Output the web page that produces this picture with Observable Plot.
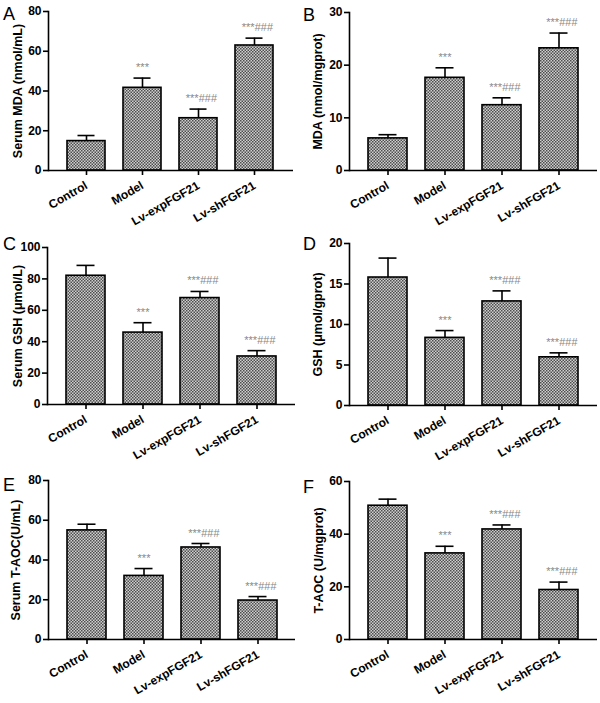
<!DOCTYPE html>
<html><head><meta charset="utf-8">
<script src="https://cdn.jsdelivr.net/npm/d3@7"></script>
<script src="https://cdn.jsdelivr.net/npm/@observablehq/plot@0.6"></script>
<style>
body{margin:0;background:#fff;}
#wrap{position:relative;width:600px;height:703px;font-family:"Liberation Sans",Arial,sans-serif;overflow:hidden;}
.panel{position:absolute;}
.letter{position:absolute;font-size:18px;line-height:18px;color:#000;}
</style></head><body>
<svg width="0" height="0" style="position:absolute"><defs>
<pattern id="chk" width="3" height="3" patternUnits="userSpaceOnUse">
<rect width="3" height="3" fill="#cfcfcf"/><rect width="1.5" height="1.5" fill="#4e4e4e"/><rect x="1.5" y="1.5" width="1.5" height="1.5" fill="#4e4e4e"/>
</pattern></defs></svg>
<div id="wrap"></div>
<script>
const groups = ["Control", "Model", "Lv-expFGF21", "Lv-shFGF21"];
const stars = ["", "***", "***", "***"];
const hashes = ["", "", "###", "###"];

// A: Serum MDA
const serumMDA = [14.8, 41.6, 26.3, 62.9];
const serumMDAUpper = [17.6, 46.5, 30.9, 66.6];
const serumMDATicks = [0, 20, 40, 60, 80];
// B: tissue MDA
const MDA = [6.1, 17.6, 12.4, 23.2];
const MDAUpper = [6.8, 19.5, 13.8, 26.1];
const MDATicks = [0, 10, 20, 30];
// C: Serum GSH
const serumGSH = [82.0, 45.8, 67.8, 30.6];
const serumGSHUpper = [88.6, 52.1, 72.0, 34.3];
const serumGSHTicks = [0, 20, 40, 60, 80, 100];
// D: tissue GSH
const GSH = [15.8, 8.35, 12.85, 5.95];
const GSHUpper = [18.2, 9.25, 14.15, 6.5];
const GSHTicks = [0, 5, 10, 15, 20];
// E: Serum T-AOC
const serumTAOC = [54.9, 32.0, 46.3, 19.6];
const serumTAOCUpper = [58.0, 35.7, 48.3, 21.6];
const serumTAOCTicks = [0, 20, 40, 60, 80];
// F: tissue T-AOC
const TAOC = [50.8, 32.7, 41.8, 18.8];
const TAOCUpper = [53.3, 35.4, 43.5, 21.8];
const TAOCTicks = [0, 20, 40, 60];

const panels = [
  {letter: "A", label: "Serum MDA (nmol/mL)", values: serumMDA, upper: serumMDAUpper, ticks: serumMDATicks,
   left: 0, top: 0, height: 232, mt: 11, mb: 62, ml: 48, mr: 7, ly: 5, lx: -31},
  {letter: "B", label: "MDA (nmol/mgprot)", values: MDA, upper: MDAUpper, ticks: MDATicks,
   left: 300, top: 0, height: 232, mt: 12, mb: 62, ml: 49, mr: 3, ly: 6, lx: -32},
  {letter: "C", label: "Serum GSH (μmol/L)", values: serumGSH, upper: serumGSHUpper, ticks: serumGSHTicks,
   left: 0, top: 232, height: 233, mt: 15, mb: 61, ml: 47, mr: 5, ly: 235, lx: -30},
  {letter: "D", label: "GSH (μmol/gprot)", values: GSH, upper: GSHUpper, ticks: GSHTicks,
   left: 300, top: 232, height: 233, mt: 11, mb: 60, ml: 49, mr: 3, ly: 235, lx: -32},
  {letter: "E", label: "Serum T-AOC(U/mL)", values: serumTAOC, upper: serumTAOCUpper, ticks: serumTAOCTicks,
   left: 0, top: 465, height: 238, mt: 15, mb: 64, ml: 48, mr: 5, ly: 476, lx: -33},
  {letter: "F", label: "T-AOC (U/mgprot)", values: TAOC, upper: TAOCUpper, ticks: TAOCTicks,
   left: 300, top: 465, height: 238, mt: 16, mb: 64, ml: 49, mr: 3, ly: 478, lx: -31}
];

const wrap = document.getElementById("wrap");
const font = "'Liberation Sans', Arial, sans-serif";

for (const p of panels) {
  const data = groups.map((g, i) => ({group: g, value: p.values[i], upper: p.upper[i], stars: stars[i], hashes: hashes[i]}));
  const yMax = p.ticks[p.ticks.length - 1];
  const chart = Plot.plot({
    width: 300,
    height: p.height,
    marginTop: p.mt,
    marginBottom: p.mb,
    marginLeft: p.ml,
    marginRight: p.mr,
    style: {fontFamily: font, background: "transparent", overflow: "visible"},
    x: {domain: groups, padding: 0.32},
    y: {domain: [0, yMax]},
    marks: [
      Plot.ruleX(data, {x: "group", y1: "value", y2: "upper", stroke: "#000", strokeWidth: 1.6}),
      Plot.tickY(data, {x: "group", y: "upper", stroke: "#000", strokeWidth: 1.6, insetLeft: 10.5, insetRight: 10.5}),
      Plot.barY(data, {x: "group", y: "value", fill: "url(#chk)", stroke: "#000", strokeWidth: 1.6}),
      Plot.text(data.filter(d => d.stars && !d.hashes), {x: "group", y: "upper", text: "stars", dy: -7, lineAnchor: "bottom", fontSize: 11, fill: "#888", textAnchor: "middle"}),
      Plot.text(data.filter(d => d.stars && d.hashes), {x: "group", y: "upper", text: "stars", dy: -7, lineAnchor: "bottom", fontSize: 11, fill: "#888", textAnchor: "end"}),
      Plot.text(data.filter(d => d.hashes), {x: "group", y: "upper", text: "hashes", dy: -7, lineAnchor: "bottom", fontSize: 11, fill: "#888", fontStyle: "italic", textAnchor: "start"}),
      Plot.ruleY([0], {stroke: "#000", strokeWidth: 1.6}),
      Plot.frame({anchor: "left", stroke: "#000", strokeWidth: 1.6}),
      Plot.axisY({ticks: p.ticks, tickSize: 5, tickPadding: 2, fontSize: 12, fontWeight: "bold", strokeWidth: 1.6, label: null, tickFormat: d => String(d)}),
      Plot.axisX({tickRotate: -30, tickSize: 5, tickPadding: 9, fontSize: 12, fontWeight: "bold", strokeWidth: 1.6, label: null}),
      Plot.text([p.label], {frameAnchor: "left", textAnchor: "middle", rotate: -90, dx: p.lx, fontSize: 12.5, fontWeight: "bold", fill: "#000"})
    ]
  });
  chart.classList.add("panel");
  chart.style.left = p.left + "px";
  chart.style.top = p.top + "px";
  wrap.appendChild(chart);

  const L = document.createElement("div");
  L.className = "letter";
  L.textContent = p.letter;
  L.style.left = (p.left + 3) + "px";
  L.style.top = p.ly + "px";
  wrap.appendChild(L);
}
</script>
</body></html>
